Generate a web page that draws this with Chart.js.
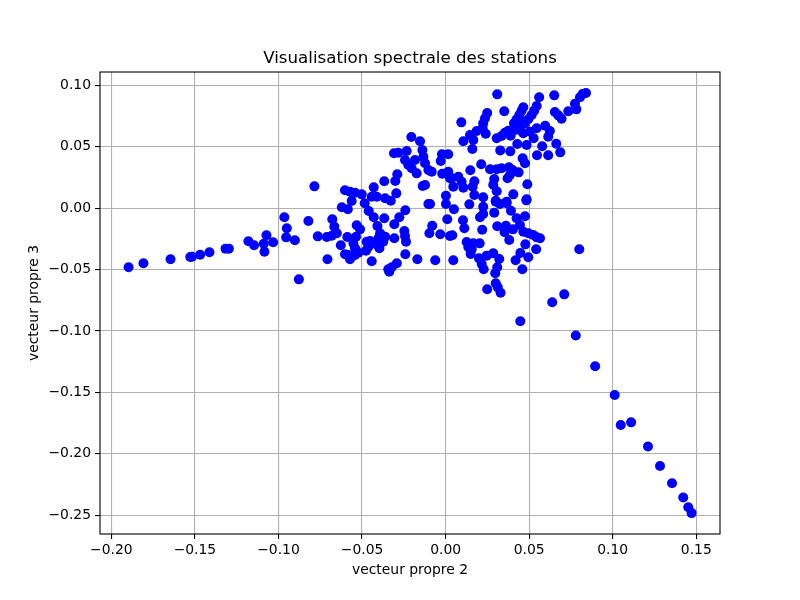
<!DOCTYPE html>
<html>
<head>
<meta charset="utf-8">
<title>Visualisation spectrale des stations</title>
<script src="https://cdn.jsdelivr.net/npm/chart.js@4"></script>
<style>
    html, body { margin: 0; padding: 0; background: #fff; }
    canvas { display: block; }
</style>
</head>
<body>
<canvas id="chart" width="800" height="600"></canvas>
<script>
const chartTitle = 'Visualisation spectrale des stations';
const xLabel = 'vecteur propre 2';
const yLabel = 'vecteur propre 3';
const xTicks = [-0.20, -0.15, -0.10, -0.05, 0.00, 0.05, 0.10, 0.15];
const yTicks = [-0.25, -0.20, -0.15, -0.10, -0.05, 0.00, 0.05, 0.10];

/* -------- values -------- */
const vp2 = [
    -.1897, -.1808, -.1646, -.1528, -.1518, -.1469, -.1413, -.1317, -.1297, -.1180, -.1146, -.1072, -.1088, -.1084, -.1032,
    -.0965, -.0950, -.0954, -.0902, -.0878, -.0785, -.0821, -.0765, -.0711, -.0681, -.0651, -.0666, -.0678, -.0627, -.0707,
    -.0588, -.0532, -.0512, -.0536, -.0552, -.0542, -.0602, -.0572, -.0582, -.0562, -.0542, -.0522, -.0536, -.0472, -.0452,
    -.0462, -.0476, -.0442, -.0408, -.0392, -.0362, -.0402, -.0373, -.0408, -.0396, -.0307, -.0241, -.0292, -.0322, -.0343,
    -.0337, -.0169, -.0062, -.0247, -.0243, -.0237, -.0307, -.0277, -.0241, -.0367, -.0430, -.0460, -.0484, -.0621, -.0585,
    -.0562, -.0602, -.0572, -.0542, -.0502, -.0442, -.0412, -.0362, -.0328, -.0295, -.0430, -.0367, -.0301, -.0289, -.0309,
    -.0283, -.0233, -.0243, -.0223, -.0203, -.0173, -.0205, -.0153, -.0139, -.0133, -.0123, -.0103, -.0083, -.0183, -.0137,
    -.0123, -.0029, -.0022, .0016, -.0020, .0016, .0026, -.0103, .0002, .0002, .0010, -.0080, -.0097, -.0032, .0026,
    .0309, .0094, .0351, .0560, .0650, .0840, .0820, .0804, .0774, .0782, .0734, .0654, .0674, .0694, .0249,
    .0236, .0225, .0222, .0240, .0186, .0146, .0166, .0106, .0160, .0465, .0455, .0441, .0425, .0409, .0435,
    .0455, .0545, .0530, .0515, .0495, .0475, .0445, .0415, .0465, .0375, .0355, .0335, .0306, .0389, .0545,
    .0505, .0527, .0596, .0624, .0614, .0429, .0485, .0327, .0387, .0578, .0662, .0686, .0547, .0614, .0461,
    .0475, .0213, .0266, .0306, .0335, .0379, .0401, .0437, .0148, .0076, .0036, .0046, .0096, .0106, .0172,
    .0162, .0172, .0225, .0291, .0285, .0306, .0371, .0385, .0489, .0405, .0485, .0300, .0365,
    .0800, .0710, .0638, .0447, .0249, .0300, .0312, .0329, .0297, .0309, .0228, .0216, .0200, .0246, .0285,
    .0321, .0459, .0419, .0447, .0495, .0542, .0477, .0150, .0156, .0126, .0166, .0204, .0136, .0046, .0381,
    .0353, .0361, .0309, .0403, .0219, .0040, .0104, .0112, .0475, .0425, .0445, .0465, .0495, .0524, .0545,
    .0565, .0391, .0206, .0225, .0291, .0225, .0300, .0325, .0365, .0483, .0142, .0050, -.0093,
    .0779, .0895, .1012, .1048, .1110, .1211, .1283, .1355, .1422, .1452, .1472
];
const vp3 = [
    -.0482, -.0449, -.0417, -.0398, -.0396, -.0379, -.0360, -.0330, -.0330, -.0270, -.0303, -.0221, -.0290, -.0355, -.0278,
    -.0075, -.0164, -.0238, -.0262, -.0580, .0177, -.0105, -.0230, -.0235, -.0225, -.0205, -.0151, -.0091, -.0303, -.0417,
    -.0235, -.0140, -.0173, -.0233, -.0287, -.0327, -.0376, -.0417, -.0382, -.0390, -.0382, -.0363, -.0341, -.0274, -.0268,
    -.0314, -.0347, -.0433, -.0146, -.0205, -.0233, -.0246, -.0274, -.0300, -.0327, -.0246, -.0376, -.0449, -.0482, -.0498,
    -.0518, -.0417, -.0425, -.0186, -.0227, -.0274, -.0132, -.0075, -.0018, -.0083, -.0075, -.0024, .0039, .0007, -.0010,
    .0058, .0145, .0133, .0125, .0112, .0093, .0093, .0080, .0060, .0120, .0169, .0218, .0221, .0275, .0446,
    .0451, .0465, .0392, .0351, .0324, .0283, .0579, .0544, .0473, .0418, .0365, .0310, .0296, .0392, .0180,
    .0188, .0383, .0438, .0438, .0280, .0296, .0243, .0033, .0101, .0033, -.0091, -.0143, -.0205, -.0213, -.0227,
    .0926, .0698, .0788, .0902, .0918, .0937, .0929, .0902, .0850, .0804, .0788, .0782, .0755, .0728, .0774,
    .0731, .0690, .0650, .0606, .0628, .0595, .0554, .0544, .0481, .0821, .0793, .0758, .0723, .0690, .0690,
    .0703, .0831, .0793, .0758, .0723, .0690, .0636, .0636, .0609, .0630, .0614, .0587, .0568, .0589, .0650,
    .0622, .0568, .0671, .0628, .0581, .0522, .0514, .0470, .0462, .0503, .0524, .0454, .0430, .0430, .0405,
    .0365, .0357, .0316, .0316, .0324, .0332, .0310, .0291, .0308, .0256, .0243, .0174, .0215, .0166, .0218,
    .0174, .0107, .0088, .0237, .0190, .0137, .0243, .0269, .0194, .0112, .0072, .0060, .0052,
    -.0335, -.0702, -.0767, -.0921, -.0661, -.0612, -.0645, -.0689, -.0531, -.0482, -.0498, -.0455, -.0409, -.0387, -.0368,
    -.0414, -.0498, -.0425, -.0365, -.0400, -.0335, -.0295, -.0374, -.0335, -.0276, -.0287, -.0287, -.0319, -.0425, -.0260,
    -.0197, -.0143, -.0148, -.0173, -.0176, -.0221, -.0099, -.0164, -.0067, -.0083, -.0138, -.0192, -.0205, -.0219, -.0238,
    -.0246, -.0021, -.0075, -.0048, -.0037, .0011, .0052, .0033, .0039, .0063, .0031, -.0010, .0033,
    -.1037, -.1288, -.1522, -.1766, -.1744, -.1940, -.2100, -.2240, -.2356, -.2435, -.2483
];

const points = vp2.map((v, i) => ({ x: v, y: vp3[i] }));
const fmt = v => v.toFixed(2).replace('-', '\u2212');

// top and right spines, chart.js only draws the axis side ones
const frame = {
    id: 'frame',
    afterDatasetsDraw(chart) {
        const a = chart.chartArea, c = chart.ctx;
        c.save();
        c.strokeStyle = '#000';
        c.lineWidth = 1.1;
        c.strokeRect(a.left, a.top, a.right - a.left, a.bottom - a.top);
        c.restore();
    }
};

new Chart(document.getElementById('chart'), {
    type: 'scatter',
    data: {
        datasets: [{
            data: points,
            backgroundColor: '#0000ff',
            borderColor: '#0000ff',
            borderWidth: 0,
            pointRadius: 5,
            clip: false
        }]
    },
    options: {
        responsive: false,
        animation: false,
        devicePixelRatio: 1,
        layout: { padding: { right: 80 } },
        font: { family: '"DejaVu Sans"' },
        plugins: {
            legend: { display: false },
            tooltip: { enabled: false },
            title: {
                display: true,
                fullSize: false,
                text: chartTitle,
                color: '#000',
                font: { family: '"DejaVu Sans"', size: 16.67, weight: 'normal', lineHeight: 1.2 },
                padding: { top: 49, bottom: 3 }
            }
        },
        scales: {
            x: {
                min: -0.2068,
                max: 0.1642,
                afterFit(s) { s.height = 66; },
                afterBuildTicks(s) { s.ticks = xTicks.map(v => ({ value: v })); },
                grid: { color: '#b0b0b0', lineWidth: 1.1, tickColor: '#000', tickLength: 5 },
                border: { display: false },
                ticks: {
                    autoSkip: false, maxRotation: 0, color: '#000', padding: 3,
                    font: { family: '"DejaVu Sans"', size: 13.9 },
                    callback: v => fmt(v)
                },
                title: {
                    display: true, text: xLabel, color: '#000',
                    font: { family: '"DejaVu Sans"', size: 13.9 },
                    padding: { top: 0, bottom: 21 }
                }
            },
            y: {
                min: -0.2653,
                max: 0.1108,
                afterFit(s) { s.width = 100; },
                afterBuildTicks(s) { s.ticks = yTicks.map(v => ({ value: v })); },
                grid: { color: '#b0b0b0', lineWidth: 1.1, tickColor: '#000', tickLength: 5 },
                border: { display: false },
                ticks: {
                    autoSkip: false, color: '#000', padding: 4,
                    font: { family: '"DejaVu Sans"', size: 13.9 },
                    callback: v => fmt(v)
                },
                title: {
                    display: true, text: yLabel, color: '#000',
                    font: { family: '"DejaVu Sans"', size: 13.9 },
                    padding: { top: 26, bottom: 0 }
                }
            }
        }
    },
    plugins: [frame]
});
</script>
</body>
</html>
